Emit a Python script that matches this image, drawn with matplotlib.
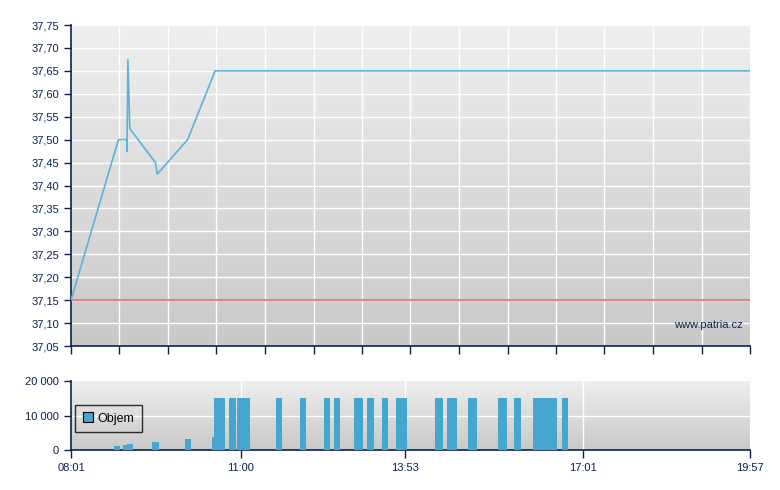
import matplotlib
matplotlib.use("Agg")
import matplotlib.pyplot as plt
import numpy as np
from matplotlib.ticker import FuncFormatter

plt.rcParams['font.family'] = ['Liberation Sans', 'DejaVu Sans']

def tm(s):
    h, m = s.split(':')
    return int(h) * 60 + int(m)

# price line
price_times = ["08:01", "08:51", "09:00", "09:00", "09:01", "09:03", "09:30", "09:32", "10:04", "10:33", "19:57"]
price_values = [37.15, 37.50, 37.50, 37.474, 37.674, 37.524, 37.45, 37.425, 37.50, 37.65, 37.65]
reference_price = 37.15

# volume bars
vol_start = ["08:46", "08:56", "09:00", "09:26", "10:01", "10:30", "10:32", "10:48", "10:56", "11:37",
             "12:03", "12:28", "12:38", "12:59", "13:13", "13:29", "13:44", "14:25", "14:38", "15:00",
             "15:31", "15:48", "16:08", "16:39"]
vol_end = ["08:53", "09:00", "09:06", "09:34", "10:08", "10:32", "10:43", "10:55", "11:10", "11:44",
           "12:09", "12:34", "12:45", "13:09", "13:20", "13:35", "13:55", "14:33", "14:48", "15:09",
           "15:41", "15:55", "16:34", "16:45"]
vol_values = [1200, 1500, 1750, 2300, 3200, 3800, 15000, 15000, 15000, 15000,
              15000, 15000, 15000, 15000, 15000, 15000, 15000, 15000, 15000, 15000,
              15000, 15000, 15000, 15000]

x_labels = ["08:01", "11:00", "13:53", "17:01", "19:57"]
y_ticks = [37.05, 37.10, 37.15, 37.20, 37.25, 37.30, 37.35, 37.40, 37.45, 37.50,
           37.55, 37.60, 37.65, 37.70, 37.75]
vol_ticks = [0, 10000, 20000]

navy = '#0a2150'
line_col = '#5cb3d8'
bar_col = '#45a6d0'

W, H = 780, 490
fig = plt.figure(figsize=(W / 100, H / 100), dpi=100)
fig.patch.set_facecolor('white')

ax = fig.add_axes([71 / W, (H - 346) / H, 679 / W, 321 / H])
axv = fig.add_axes([71 / W, (H - 450) / H, 679 / W, 69 / H])

xmin, xmax = tm("08:01"), tm("19:57")
grad = np.linspace(0, 1, 256).reshape(-1, 1)

for a in (ax, axv):
    a.set_xlim(xmin, xmax)
    a.imshow(grad, extent=[0, 1, 0, 1], transform=a.transAxes, aspect='auto',
             cmap=matplotlib.colors.LinearSegmentedColormap.from_list('g', ['#c9c9c9', '#efefef']),
             origin='lower', zorder=0)
    for sp in ('top', 'right'):
        a.spines[sp].set_visible(False)
    for sp in ('left', 'bottom'):
        a.spines[sp].set_color(navy)
        a.spines[sp].set_linewidth(1.2)
    a.tick_params(colors=navy, labelcolor=navy, labelsize=8, length=5, width=1)

# main chart
ax.set_ylim(37.05, 37.75)
ax.set_yticks(y_ticks)
ax.yaxis.set_major_formatter(FuncFormatter(lambda v, p: f"{v:.2f}".replace('.', ',')))
minor_x = np.linspace(xmin, xmax, 15)
ax.set_xticks(minor_x)
ax.set_xticklabels([])
ax.tick_params(axis='x', length=6)
for v in y_ticks[1:]:
    ax.axhline(v, color='white', lw=1.0, zorder=1)
for v in minor_x[1:-1]:
    ax.axvline(v, color='white', lw=1.0, zorder=1)
ax.axhline(reference_price, color='#dd7070', lw=1.2, zorder=2)
ax.plot([tm(t) for t in price_times], price_values, color=line_col, lw=1.2, zorder=3)
ax.text(0.99, 0.065, "www.patria.cz", transform=ax.transAxes, ha='right', va='center',
        fontsize=8, color=navy, zorder=4)

# volume chart
axv.set_ylim(0, 20000)
axv.set_yticks(vol_ticks)
axv.yaxis.set_major_formatter(FuncFormatter(lambda v, p: f"{int(v):,}".replace(',', ' ')))
axv.set_xticks([tm(t) for t in x_labels])
axv.set_xticklabels(x_labels)
axv.tick_params(axis='x', length=6)
axv.axhline(10000, color='white', lw=1.0, zorder=1)
for t in x_labels[1:-1]:
    axv.axvline(tm(t), color='white', lw=1.0, zorder=1)
starts = np.array([tm(t) for t in vol_start])
ends = np.array([tm(t) for t in vol_end])
axv.bar(starts, vol_values, width=ends - starts, align='edge', color=bar_col, zorder=3, label='Objem')
leg = axv.legend(loc='lower left', bbox_to_anchor=(0.006, 0.26), frameon=True, fancybox=False,
                 fontsize=9, handlelength=0.8, handleheight=0.8, handletextpad=0.4,
                 borderpad=0.6, borderaxespad=0, labelcolor='black')
leg.get_frame().set_edgecolor('black')
leg.get_frame().set_facecolor('none')
leg.get_frame().set_linewidth(1)
for p in leg.get_patches():
    p.set_edgecolor('black')
    p.set_linewidth(0.8)

fig.savefig('out.png', dpi=100, facecolor='white')
